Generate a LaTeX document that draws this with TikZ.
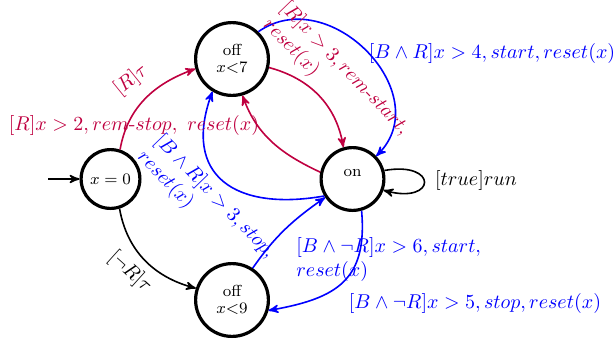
\documentclass[tikz,border=0pt]{standalone}
\usetikzlibrary{arrows}
\definecolor{rem}{RGB}{191,0,64}
\begin{document}
\begin{tikzpicture}[x=0.5pt,y=0.5pt,
  state/.style={circle,draw,line width=1.6pt,inner sep=0pt,font=\footnotesize,align=center},
  tr/.style={->,>=stealth',thick},
  lab/.style={inner sep=0pt}]
\useasboundingbox (0,0) rectangle (615,339);

% locations
\node[state,minimum size=29.4pt] (q0) at (110.5,160) {$x=0$};
\node[state,minimum size=36.4pt] (off7) at (232,280) {off\\[-1pt]$x{<}7$};
\node[state,minimum size=31.4pt] (on) at (352.5,160) {\raisebox{6.5pt}{on}};
\node[state,minimum size=36.4pt] (off9) at (232,39) {off\\[-1pt]$x{<}9$};

% initial location
\coordinate (init) at (48,160);
\draw[tr] (init) -- (q0);

% transitions
\draw[tr,rem] (q0.72) to[out=80,in=200] (off7.195);
\draw[tr,rem] (off7.-13) to[out=-15,in=100] (on.106);
\draw[tr,rem] (on.168) to[out=155,in=-70] (off7.-74);
\draw[tr,blue] (off7.46) to[out=35,in=45,looseness=1.3] (on.44);
\draw[tr,blue] (on.211) to[out=190,in=250,looseness=1.5] (off7.239);
\draw[tr,blue] (off9.57) to[out=55,in=215] (on.214);
\draw[tr,blue] (on.-74) to[out=-85,in=10,looseness=1.3] (off9.-16);
\draw[tr] (q0.-73) to[out=-80,in=165] (off9.162);
\draw[tr] (on.15) .. controls +(10:55) and +(-15:55) .. (on.-20);

% guards and actions
\node[lab,rem,rotate=39] (l1) at (131,259) {$[R]\tau$};
\node[lab,rem] (l2) at (134,214) {$[R]x>2, rem\mbox{-}stop,\ reset(x)$};
\node[lab,rem,rotate=-46,align=left] (l3) at (336,262) {$[R]x>3, rem\mbox{-}start,$\\$reset(x)$};
\node[lab,blue] (l4) at (492,286) {$[B\wedge R]x>4, start, reset(x)$};
\node[lab,blue,rotate=-46,align=left] (l5) at (206,134) {$[B\wedge R]x>3, stop,$\\$reset(x)$};
\node[lab,rotate=-42] (l6) at (130,67) {$[\neg R]\tau$};
\node[lab] (l7) at (476,159) {$[true]run$};
\node[lab,blue,align=left,anchor=west] (l8) at (296,80) {$[B\wedge\neg R]x>6, start,$\\$reset(x)$};
\node[lab,blue] (l9) at (475,36) {$[B\wedge\neg R]x>5, stop, reset(x)$};
\end{tikzpicture}
\end{document}
